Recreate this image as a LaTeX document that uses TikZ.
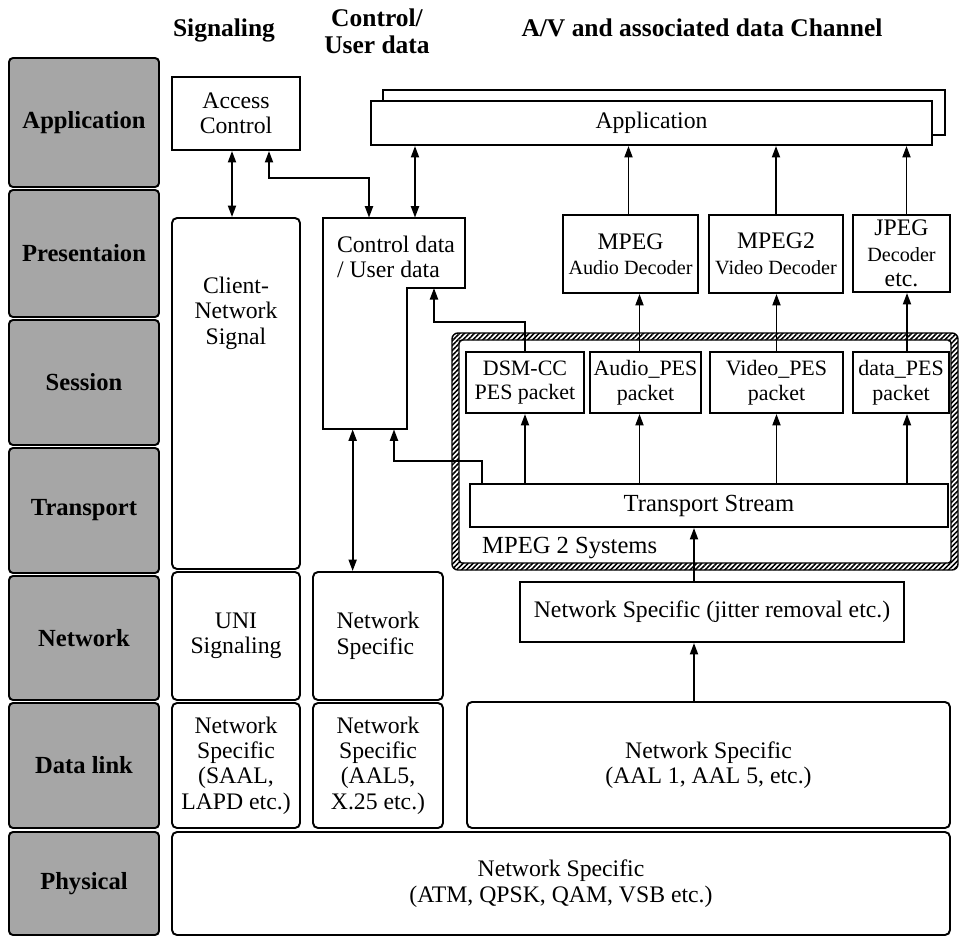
\documentclass[tikz,border=0pt]{standalone}
\usepackage{fontspec}
\setmainfont{Liberation Serif}
\usetikzlibrary{arrows.meta, patterns.meta}
\newdimen\px
\px=0.02cm
\newcommand{\decfont}{\fontsize{11.5}{14}\selectfont}

\begin{document}
\begin{tikzpicture}[
		x=0.02cm, y=-0.02cm,
		every node/.style={font=\fontsize{13.5}{14.5}\selectfont},
		sz/.style 2 args={minimum width=#1\px, minimum height=#2\px},
		box/.style={draw, line width=1.1pt, fill=white, inner sep=0pt, align=center},
		rbox/.style={box, rounded corners=1mm},
		pes/.style={box, font=\fontsize{12.5}{14}\selectfont},
		layer/.style={draw, line width=1.1pt, rounded corners=0.8mm, fill=black!35, inner sep=0pt, minimum width=150\px, font=\bfseries\fontsize{14}{15}\selectfont},
		head/.style={align=center, font=\bfseries\fontsize{14.5}{15.5}\selectfont},
		arr/.style={line width=1.1pt, -{Triangle[length=2.3mm, width=1.6mm]}},
		dbl/.style={line width=1.1pt, {Triangle[length=2.3mm, width=1.6mm]}-{Triangle[length=2.3mm, width=1.6mm]}}
		]
		\useasboundingbox (0,0) rectangle (961,937);
		
		% Headers
		\node[head] (hsig) at (224,30) {Signaling};
		\node[head] (hctl) at (377,31) {Control/\\User data};
		\node[head] (hav) at (702,28) {A/V and associated data Channel};
		
		% Layers
		\node[layer, minimum height=129\px] (lapp) at (84,122.5) {Application};
		\node[layer, minimum height=127\px] (lpre) at (84,253.5) {Presentaion};
		\node[layer, minimum height=125\px] (lses) at (84,382.5) {Session};
		\node[layer, minimum height=125\px] (ltra) at (84,510.5) {Transport};
		\node[layer, minimum height=124\px] (lnet) at (84,638) {Network};
		\node[layer, minimum height=125\px] (ldl) at (84,765.5) {Data link};
		\node[layer, minimum height=103\px] (lphy) at (84,883.5) {Physical};
		
		% Signaling column
		\node[box, sz={128}{73}] (acc) at (236,113.5) {Access\\Control};
		\node[rbox, sz={128}{351}] (cns) at (236,393.5) {};
		\node[align=center] (cnstxt) at (236,313) {Client-\\Network\\Signal};
		\node[rbox, sz={128}{128}] (uni) at (236,636) {UNI\\Signaling};
		\node[rbox, sz={128}{125}] (sigdl) at (236,765.5) {Network\\Specific\\(SAAL,\\LAPD etc.)};
		
		% Control / user data column
		\node[inner sep=0pt, sz={142}{211}] (ctrl) at (394,323.5) {};
		\coordinate (notch) at (407,288);
		\draw[line width=1.1pt] (ctrl.north west) -- (ctrl.north east) |- (notch) |- (ctrl.south west) -- cycle;
		\node[align=left] (ctrltxt) at (396,257) {Control data\\/ User data};
		\node[rbox, align=left, sz={130}{128}] (ctrlnet) at (378,636) {Network\\Specific};
		\node[rbox, sz={130}{125}] (ctrldl) at (378,765.5) {Network\\Specific\\(AAL5,\\X.25 etc.)};
		
		% A/V column
		\node[box, sz={562}{45}] (appback) at (664,112.5) {};
		\node[box, sz={561}{44}] (app) at (651.5,123) {Application};
		\node[box, sz={135}{78}] (mpa) at (630.5,254) {MPEG\\{\decfont Audio Decoder}};
		\node[box, sz={134}{78}] (mpv) at (776,254) {MPEG2\\{\decfont Video Decoder}};
		\node[box, sz={97}{77}] (jpeg) at (901.5,253.5) {JPEG\\{\decfont Decoder}\\etc.};
		
		% MPEG 2 Systems frame
		\fill[pattern={Lines[angle=45, distance=2pt, line width=0.9pt]}, even odd rule, rounded corners=1.2mm]
			(452,333) rectangle (958,570) (459,340) rectangle (951,563);
		\draw[line width=0.8pt, rounded corners=1.2mm] (452,333) rectangle (958,570);
		\draw[line width=0.8pt, rounded corners=0.6mm] (459,340) rectangle (951,563);
		\node[anchor=west, font=\fontsize{14}{15}\selectfont] (syslbl) at (476,548) {MPEG 2 Systems};
		
		\node[pes, sz={118}{61}] (dsm) at (525,382.5) {DSM-CC\\PES packet};
		\node[pes, sz={111}{61}] (apes) at (645.5,382.5) {Audio\_PES\\packet};
		\node[pes, sz={133}{61}] (vpes) at (776.5,382.5) {Video\_PES\\packet};
		\node[pes, sz={96}{61}] (dpes) at (901,382.5) {data\_PES\\packet};
		\node[box, font=\fontsize{14}{15}\selectfont, sz={478}{43}] (ts) at (709,505.5) {Transport Stream};
		\node[box, sz={384}{60}] (jit) at (712,612) {Network Specific (jitter removal etc.)};
		\node[rbox, sz={483}{126}] (aal) at (708.5,765) {Network Specific\\(AAL 1, AAL 5, etc.)};
		
		% Physical
		\node[rbox, sz={778}{103}] (phy) at (561,883.5) {Network Specific\\(ATM, QPSK, QAM, VSB etc.)};
		
		% Arrows
		\draw[dbl] ([xshift=-4\px]acc.south) -- ([xshift=-4\px]cns.north);
		\draw[dbl] ([xshift=33\px]acc.south) -- ++(0,27) -| ([xshift=-25\px]ctrl.north);
		\draw[dbl] ([xshift=21\px]ctrl.north) -- ([xshift=21\px]ctrl.north |- app.south);
		\draw[arr] ([xshift=-2\px]mpa.north) -- ([xshift=-2\px]mpa.north |- app.south);
		\draw[arr] (mpv.north) -- (mpv.north |- app.south);
		\draw[arr] ([xshift=5\px]jpeg.north) -- ([xshift=5\px]jpeg.north |- app.south);
		\draw[arr] ([xshift=-6\px]apes.north) -- ([xshift=-6\px]apes.north |- mpa.south);
		\draw[arr] (vpes.north) -- (vpes.north |- mpv.south);
		\draw[arr] ([xshift=6\px]dpes.north) -- ([xshift=6\px]dpes.north |- jpeg.south);
		\draw[arr] (dsm.south |- ts.north) -- (dsm.south);
		\draw[arr] ([xshift=-6\px]apes.south |- ts.north) -- ([xshift=-6\px]apes.south);
		\draw[arr] (vpes.south |- ts.north) -- (vpes.south);
		\draw[arr] ([xshift=6\px]dpes.south |- ts.north) -- ([xshift=6\px]dpes.south);
		\draw[arr] (dsm.north) -- ++(0,-29) -| ([xshift=27\px]notch);
		\draw[arr] ([xshift=13\px]ts.north west) -- ++(0,-22) -| (ctrl.south);
		\draw[dbl] ([xshift=30\px]ctrl.south west) -- ([xshift=30\px]ctrl.south west |- ctrlnet.north);
		\draw[arr] ([xshift=-18\px]jit.north) -- ([xshift=-18\px]jit.north |- ts.south);
		\draw[arr] ([xshift=-18\px]jit.south |- aal.north) -- ([xshift=-18\px]jit.south);
	\end{tikzpicture}
\end{document}
